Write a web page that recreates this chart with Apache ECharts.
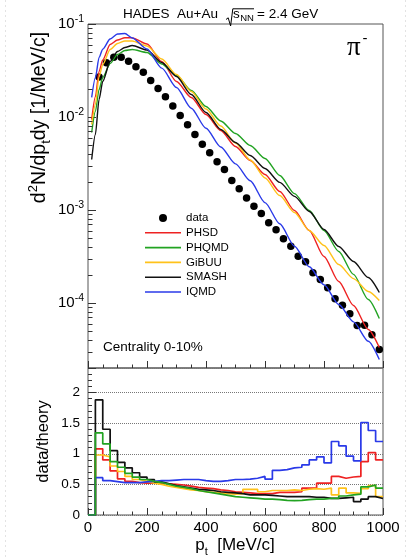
<!DOCTYPE html>
<html><head><meta charset="utf-8">
<script src="https://cdn.jsdelivr.net/npm/echarts@6/dist/echarts.min.js"></script>
<style>html,body{margin:0;padding:0;background:#fff}#c{width:411px;height:560px}</style>
</head><body><div id="c"></div>
<script>
// ---------------- data ----------------
const dataPt = [37.5, 62.5, 87.5, 112.5, 137.5, 162.5, 187.5, 212.5, 237.5, 262.5, 287.5, 312.5, 337.5, 362.5, 387.5, 412.5, 437.5, 462.5, 487.5, 512.5, 537.5, 562.5, 587.5, 612.5, 637.5, 662.5, 687.5, 712.5, 737.5, 762.5, 787.5, 812.5, 837.5, 862.5, 887.5, 912.5, 937.5, 962.5, 987.5];
const dataVal = [0.0270, 0.0383, 0.0440, 0.0440, 0.0398, 0.0347, 0.0303, 0.0247, 0.0202, 0.0165, 0.0131, 0.0104, 0.00824, 0.00649, 0.00510, 0.00412, 0.00330, 0.00272, 0.00207, 0.00169, 0.00135, 0.00110, 0.000917, 0.000728, 0.000612, 0.000490, 0.000408, 0.000319, 0.000277, 0.000211, 0.000179, 0.000146, 0.000111, 0.0000947, 0.0000765, 0.0000573, 0.0000577, 0.0000455, 0.0000316];

const modelPt = [12.5, 25, 37.5, 50, 75, 100, 125, 150, 200, 250, 300, 350, 400, 450, 500, 550, 600, 650, 700, 750, 800, 850, 900, 950, 987.5];
const phsd  = [0.00940, 0.01649, 0.03084, 0.0411, 0.0602, 0.0673, 0.0712, 0.0710, 0.0609, 0.0395, 0.0241, 0.0162, 0.01064, 0.00716, 0.00482, 0.00341, 0.00241, 0.00158, 0.000988, 0.000602, 0.000316, 0.000170, 0.0000940, 0.0000519, 0.0000332];
const phqmd = [0.00681, 0.01146, 0.01975, 0.0266, 0.0376, 0.0470, 0.0519, 0.0532, 0.0494, 0.0372, 0.02794, 0.01927, 0.01297, 0.00906, 0.00665, 0.00494, 0.00358, 0.00235, 0.00150, 0.000988, 0.000602, 0.000358, 0.000203, 0.0001091, 0.0000681];
const gibuu = [0.00831, 0.01363, 0.02725, 0.0367, 0.0532, 0.0617, 0.0657, 0.0657, 0.0580, 0.0420, 0.0286, 0.01880, 0.01219, 0.00800, 0.00525, 0.00345, 0.00221, 0.00143, 0.000940, 0.000602, 0.000415, 0.000259, 0.000183, 0.000133, 0.0001064];
const smash = [0.00349, 0.00648, 0.01543, 0.0241, 0.0395, 0.0506, 0.0559, 0.0587, 0.0525, 0.0385, 0.02725, 0.01745, 0.01118, 0.00734, 0.00532, 0.00385, 0.00279, 0.00198, 0.00140, 0.000964, 0.000617, 0.000405, 0.000279, 0.000188, 0.0001297];
const iqmd  = [0.01622, 0.02648, 0.04365, 0.0537, 0.0690, 0.0780, 0.0791, 0.0707, 0.0538, 0.0335, 0.02075, 0.01244, 0.00756, 0.00475, 0.00313, 0.00206, 0.00120, 0.000711, 0.000408, 0.000245, 0.000157, 0.0000964, 0.0000627, 0.0000388, 0.0000247];

// ratio histograms: lower bin edges (25 MeV/c bins)
const binLow = [0, 25, 50, 75, 100, 125, 150, 175, 200, 225, 250, 275, 300, 325, 350, 375, 400, 425, 450, 475, 500, 525, 550, 575, 600, 625, 650, 675, 700, 725, 750, 775, 800, 825, 850, 875, 900, 925, 950, 975];
const binUpLast = 1000;
const rPHSD  = [0, 1.08, 0.90, 0.72, 0.59, 0.55, 0.53, 0.52, 0.52, 0.52, 0.51, 0.50, 0.49, 0.47, 0.45, 0.44, 0.43, 0.41, 0.40, 0.38, 0.37, 0.36, 0.35, 0.35, 0.35, 0.37, 0.37, 0.37, 0.38, 0.44, 0.44, 0.52, 0.52, 0.63, 0.60, 0.62, 0.63, 0.87, 1.02, 0.90];
const rPHQMD = [0, 1.34, 1.16, 0.87, 0.78, 0.68, 0.62, 0.58, 0.55, 0.53, 0.50, 0.47, 0.45, 0.43, 0.40, 0.38, 0.36, 0.34, 0.32, 0.30, 0.29, 0.28, 0.27, 0.26, 0.26, 0.25, 0.24, 0.235, 0.24, 0.25, 0.26, 0.26, 0.27, 0.27, 0.31, 0.33, 0.34, 0.46, 0.49, 0.44];
const rGiBUU = [0, 0.98, 0.95, 0.80, 0.71, 0.63, 0.58, 0.55, 0.52, 0.50, 0.47, 0.45, 0.43, 0.41, 0.40, 0.38, 0.37, 0.36, 0.35, 0.34, 0.35, 0.42, 0.42, 0.38, 0.40, 0.40, 0.40, 0.41, 0.40, 0.42, 0.43, 0.42, 0.44, 0.33, 0.44, 0.36, 0.355, 0.43, 0.48, 0.30];
const rSMASH = [0, 1.88, 1.40, 1.05, 0.86, 0.77, 0.69, 0.62, 0.58, 0.54, 0.51, 0.48, 0.46, 0.44, 0.42, 0.41, 0.40, 0.38, 0.37, 0.36, 0.35, 0.33, 0.33, 0.33, 0.32, 0.31, 0.30, 0.30, 0.30, 0.30, 0.29, 0.29, 0.27, 0.27, 0.28, 0.29, 0.22, 0.26, 0.30, 0.27];
const rIQMD  = [0, 0.61, 0.56, 0.545, 0.53, 0.53, 0.53, 0.54, 0.55, 0.56, 0.56, 0.57, 0.58, 0.58, 0.58, 0.56, 0.55, 0.55, 0.56, 0.58, 0.58, 0.585, 0.60, 0.63, 0.585, 0.73, 0.74, 0.77, 0.78, 0.82, 0.90, 0.95, 0.85, 1.20, 1.13, 0.96, 0.885, 1.51, 1.38, 1.20];

const xTicks = [0, 200, 400, 600, 800, 1000];
const ratioTicks = [0, 0.5, 1, 1.5, 2];

// ---------------- style ----------------
const FF = '"Liberation Sans", Arial, Helvetica, sans-serif';
const C = {PHSD:'#ee2222', PHQMD:'#22a322', GiBUU:'#ffc21a', SMASH:'#111111', IQMD:'#2a3ae8'};
const G0 = {left:88, top:24, width:295, height:344};
const G1 = {left:88, top:368, width:295, height:147};
const yMin = 2e-5, yMax = 0.1;
const LINE_ICON = 'path://M0,0H30V1.3H0Z';

const chart = echarts.init(document.getElementById('c'), null, {renderer:'canvas'});

function pairs(xs, ys){ return xs.map((x,i)=>[x, ys[i]]); }
function hist(vals){ const d = binLow.map((e,i)=>[e, vals[i]]); d.push([binUpLast, vals[vals.length-1]]); return d; }

function modelLine(name, vals){
  return {type:'line', name, xAxisIndex:0, yAxisIndex:0, data:pairs(modelPt, vals),
    smooth:0.25, smoothMonotone:'x', symbol:'none', showSymbol:false,
    lineStyle:{color:C[name], width:1.4}, itemStyle:{color:C[name], opacity:1}, z:3, silent:true};
}
function ratioLine(name, vals){
  return {type:'line', name:name+' ratio', xAxisIndex:1, yAxisIndex:1, data:hist(vals), step:'end',
    symbol:'none', showSymbol:false, lineStyle:{color:C[name], width:1.7}, itemStyle:{color:C[name]}, z:3, silent:true};
}

const tickStyle = {color:'#333', width:1};
const xAxisBase = {type:'value', min:0, max:1000, interval:200,
  axisLine:{show:false}, splitLine:{show:false},
  axisTick:{show:true, inside:true, length:7, lineStyle:tickStyle},
  minorTick:{show:true, splitNumber:4, length:3.5, lineStyle:tickStyle}};

const option = {
  animation:false,
  backgroundColor:'#fff',
  grid:[
    Object.assign({show:true, borderColor:'#555', borderWidth:1, backgroundColor:'transparent', containLabel:false, outerBoundsMode:'none'}, G0),
    Object.assign({show:true, borderColor:'#555', borderWidth:1, backgroundColor:'transparent', containLabel:false, outerBoundsMode:'none'}, G1)
  ],
  xAxis:[
    Object.assign({gridIndex:0, axisLabel:{show:false}}, xAxisBase),
    Object.assign({gridIndex:1, axisLabel:{show:true, margin:5, fontFamily:FF, fontSize:15, color:'#000',
      formatter:(v)=> xTicks.indexOf(v) >= 0 ? String(v) : ''}}, xAxisBase)
  ],
  yAxis:[
    {gridIndex:0, type:'log', logBase:10, min:yMin, max:yMax,
      axisLine:{show:false}, splitLine:{show:false},
      axisTick:{show:true, inside:true, length:8, lineStyle:tickStyle},
      axisLabel:{show:true, margin:4, showMinLabel:false,
        formatter:(v)=>{ const e = Math.log10(v); if (Math.abs(e-Math.round(e))>1e-6) return ''; return '{b|10}{e|'+Math.round(e)+'}'; },
        rich:{ b:{fontFamily:FF, fontSize:15, color:'#000', lineHeight:20, verticalAlign:'middle'},
               e:{fontFamily:FF, fontSize:10.5, color:'#000', lineHeight:11, verticalAlign:'top'} } } },
    {gridIndex:1, type:'value', min:0, max:2.4, interval:0.5,
      axisLine:{show:false},
      splitLine:{show:true, lineStyle:{type:'dotted', color:'#777', width:1}},
      axisTick:{show:true, inside:true, length:8, lineStyle:tickStyle},
      minorTick:{show:true, splitNumber:5, length:4, lineStyle:tickStyle},
      axisLabel:{show:true, margin:8, fontFamily:FF, fontSize:13.5, color:'#000',
        formatter:(v)=> ratioTicks.indexOf(v) >= 0 ? String(v) : ''} }
  ],
  legend:{show:true, orient:'vertical',
    data:[{name:'data', icon:'circle'}, {name:'PHSD', icon:LINE_ICON}, {name:'PHQMD', icon:LINE_ICON},
          {name:'GiBUU', icon:LINE_ICON}, {name:'SMASH', icon:LINE_ICON}, {name:'IQMD', icon:LINE_ICON}],
    left:140, top:206, itemWidth:36, itemHeight:8, itemGap:0.8, selectedMode:false, symbolKeepAspect:true,
    textStyle:{fontFamily:FF, fontSize:11.5, color:'#000', lineHeight:14}},
  series:[
    {type:'scatter', name:'data', xAxisIndex:0, yAxisIndex:0, data:pairs(dataPt, dataVal),
      symbol:'circle', symbolSize:7.5, itemStyle:{color:'#000', opacity:1}, z:2, silent:true},
    modelLine('PHSD', phsd), modelLine('PHQMD', phqmd), modelLine('GiBUU', gibuu),
    modelLine('SMASH', smash), modelLine('IQMD', iqmd),
    ratioLine('PHSD', rPHSD), ratioLine('GiBUU', rGiBUU), ratioLine('SMASH', rSMASH),
    ratioLine('IQMD', rIQMD), ratioLine('PHQMD', rPHQMD)
  ]
};
chart.setOption(option);

// ---------------- annotations ----------------
const richMain = (fs)=>({
  m:{fontFamily:FF, fontSize:fs, lineHeight:fs+7, verticalAlign:'middle', fill:'#000', color:'#000'},
  p:{fontFamily:FF, fontSize:Math.round(fs*0.65), lineHeight:Math.round(fs*0.65), verticalAlign:'top', fill:'#000', color:'#000'},
  s:{fontFamily:FF, fontSize:Math.round(fs*0.65), lineHeight:Math.round(fs*0.65), verticalAlign:'bottom', fill:'#000', color:'#000'}
});
function txt(x, y, text, fs, opts){
  return Object.assign({type:'text', x, y, silent:true, z:10,
    style:{text, fontFamily:FF, fontSize:fs, fill:'#000', textAlign:'left', textVerticalAlign:'middle', align:'left', verticalAlign:'middle'}}, opts||{});
}
const graphics = [
  // faint page guides
  {type:'line', shape:{x1:5.5, y1:0, x2:5.5, y2:560}, style:{stroke:'#e3e3e3', lineWidth:1, lineDash:[2,3]}, silent:true, z:0},
  {type:'line', shape:{x1:405.5, y1:0, x2:405.5, y2:560}, style:{stroke:'#e3e3e3', lineWidth:1, lineDash:[2,3]}, silent:true, z:0},
  // title
  txt(123, 14, 'HADES  Au+Au', 13.5),
  {type:'polyline', shape:{points:[[226,19.5],[228.2,17.8],[230.6,26],[232.8,8.8],[254,8.8]]}, style:{stroke:'#000', lineWidth:1, fill:null}, silent:true, z:10},
  txt(233, 14, 's', 13.5),
  txt(240.2, 18.3, 'NN', 9.5),
  txt(257, 14, '= 2.4 GeV', 13.5),
  // particle label
  {type:'text', x:347, y:47.5, silent:true, z:10, style:{text:'π', fontFamily:'"Liberation Serif", "DejaVu Serif", serif', fontSize:27, fill:'#000', textAlign:'left', textVerticalAlign:'middle'}},
  txt(362.5, 38.5, '-', 15),
  // centrality
  txt(103, 347, 'Centrality 0-10%', 13.5),
  // y axis title (top)
  {type:'text', x:40, y:117.5, rotation:Math.PI/2, silent:true, z:10,
    style:{text:'{m|d}{p|2}{m|N/dp}{s|t}{m|dy [1/MeV/c]}', rich:richMain(19.5), textAlign:'center', textVerticalAlign:'middle', align:'center', verticalAlign:'middle'}},
  // y axis title (bottom)
  {type:'text', x:43, y:441.5, rotation:Math.PI/2, silent:true, z:10,
    style:{text:'data/theory', fontFamily:FF, fontSize:16.5, fill:'#000', textAlign:'center', textVerticalAlign:'middle', align:'center', verticalAlign:'middle'}},
  // x axis title
  {type:'text', x:235, y:545, silent:true, z:10,
    style:{text:'{m|p}{s|t}{m|  [MeV/c]}', rich:richMain(17), textAlign:'center', textVerticalAlign:'middle', align:'center', verticalAlign:'middle'}}
];
// log minor ticks on the top panel's y axis
for (let d = -5; d <= -2; d++) {
  for (let k = 2; k <= 9; k++) {
    const v = k * Math.pow(10, d);
    if (v <= yMin || v >= yMax) continue;
    const py = Math.round(chart.convertToPixel({yAxisIndex:0}, v)) + 0.5;
    graphics.push({type:'line', shape:{x1:G0.left, y1:py, x2:G0.left+4.5, y2:py}, style:{stroke:'#333', lineWidth:1}, silent:true, z:10});
  }
}
chart.setOption({graphic:graphics});
</script></body></html>
